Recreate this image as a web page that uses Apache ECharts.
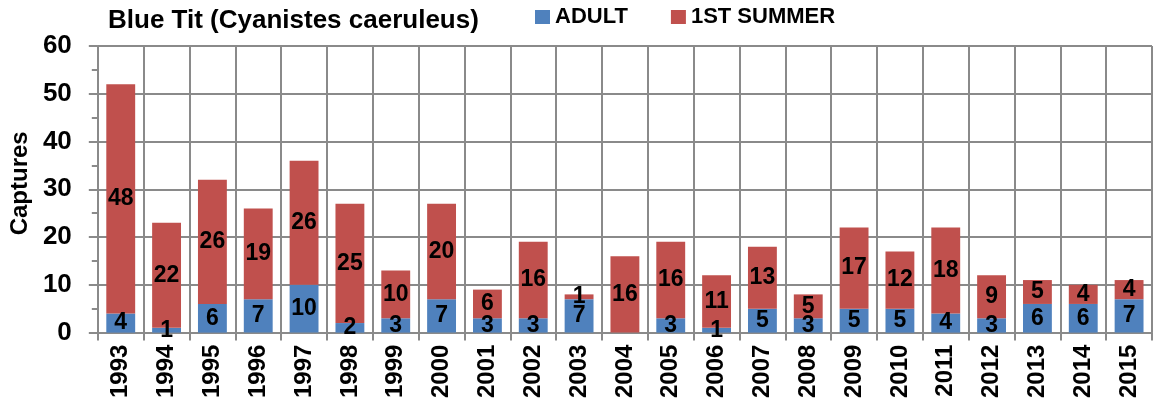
<!DOCTYPE html>
<html><head><meta charset="utf-8">
<script src="https://cdn.jsdelivr.net/npm/echarts@6/dist/echarts.min.js"></script>
<style>html,body{margin:0;padding:0;background:#fff}#c{width:1157px;height:401px}</style>
</head><body><div id="c"></div>
<script>
const years = ['1993','1994','1995','1996','1997','1998','1999','2000','2001','2002','2003','2004','2005','2006','2007','2008','2009','2010','2011','2012','2013','2014','2015'];
const adult = [4,1,6,7,10,2,3,7,3,3,7,0,3,1,5,3,5,5,4,3,6,6,7];
const firstSummer = [48,22,26,19,26,25,10,20,6,16,1,16,16,11,13,5,17,12,18,9,5,4,4];
const yTicks = [0,10,20,30,40,50,60];

const F = "'Liberation Sans', Arial, sans-serif";
const lbl = {show:true, position:'inside', color:'#000', fontFamily:F, fontWeight:'bold', fontSize:23,
  formatter: p => p.value ? String(p.value) : ''};
const chart = echarts.init(document.getElementById('c'), null, {renderer:'canvas'});
chart.setOption({
  animation:false,
  title:{text:'Blue Tit (Cyanistes caeruleus)', left:103, top:3,
    textStyle:{fontFamily:F, fontWeight:'bold', fontSize:26, color:'#000'}},
  legend:{left:530, top:1, itemWidth:15, itemHeight:14, itemGap:43, icon:'rect',
    textStyle:{fontFamily:F, fontWeight:'bold', fontSize:22, color:'#000'},
    data:['ADULT','1ST SUMMER']},
  grid:{left:92, right:5, top:46, bottom:66, containLabel:false},
  xAxis:{type:'category', data:years, boundaryGap:true,
    axisLine:{lineStyle:{color:'#8a8a8a', width:2}},
    axisTick:{show:true, interval:0, length:8, alignWithLabel:false, lineStyle:{color:'#8a8a8a', width:2}},
    splitLine:{show:true, interval:0, lineStyle:{color:'#8a8a8a', width:2}},
    axisLabel:{interval:0, rotate:90, margin:12, color:'#000', fontFamily:F, fontWeight:'bold', fontSize:24}},
  yAxis:{type:'value', min:yTicks[0], max:yTicks[yTicks.length-1], interval:10,
    name:'Captures', nameLocation:'middle', nameGap:57, nameRotate:90,
    nameTextStyle:{fontFamily:F, fontWeight:'bold', fontSize:24, color:'#000', padding:[0,0,0,12]},
    axisLine:{show:true, lineStyle:{color:'#8a8a8a', width:2}},
    axisTick:{show:true, length:9, lineStyle:{color:'#8a8a8a', width:2}},
    minorTick:{show:true, splitNumber:2, length:6, lineStyle:{color:'#8a8a8a', width:2}},
    splitLine:{show:true, lineStyle:{color:'#8a8a8a', width:2}},
    axisLabel:{color:'#000', margin:26, fontFamily:F, fontWeight:'bold', fontSize:26}},
  series:[
    {name:'ADULT', type:'bar', stack:'a', data:adult, barWidth:'63%',
     itemStyle:{color:'#4F81BD'}, label:lbl},
    {name:'1ST SUMMER', type:'bar', stack:'a', data:firstSummer, barWidth:'63%',
     itemStyle:{color:'#C0504D'}, label:lbl}
  ]
});
</script></body></html>
